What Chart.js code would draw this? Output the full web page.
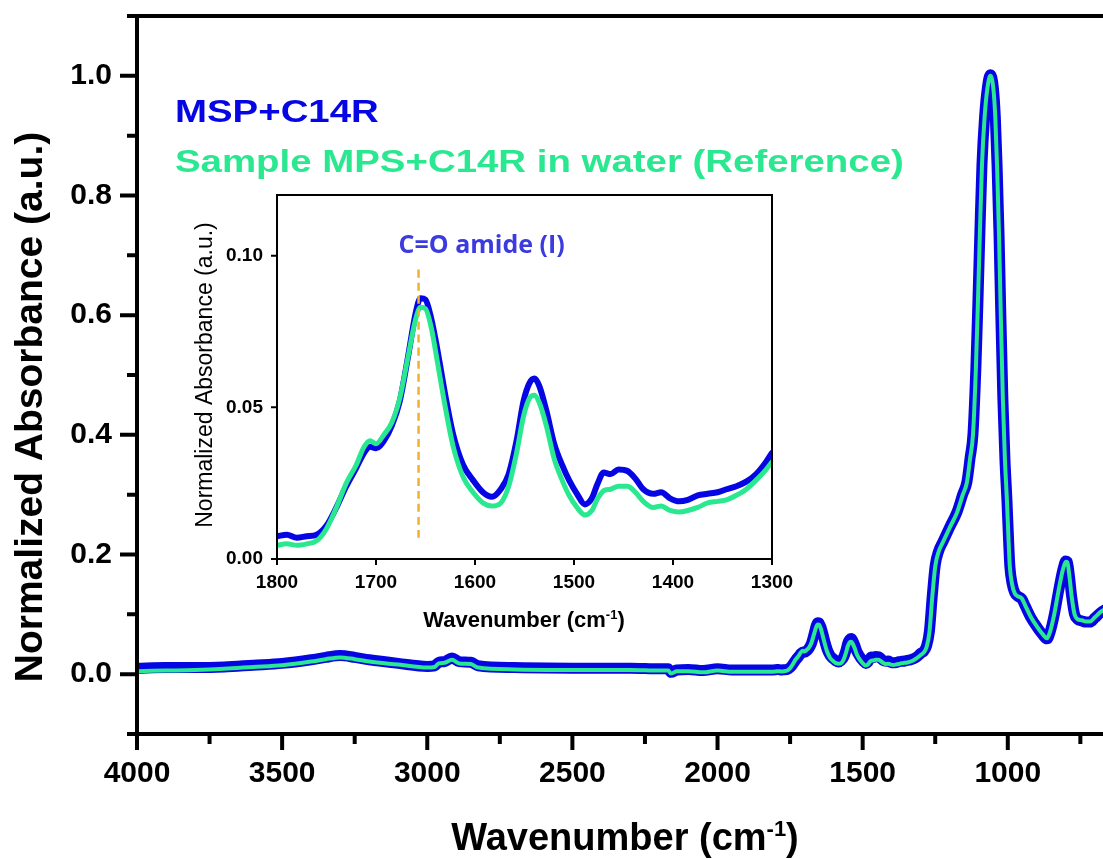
<!DOCTYPE html>
<html>
<head>
<meta charset="utf-8">
<title>FTIR spectrum</title>
<script src="https://cdn.jsdelivr.net/npm/chart.js@4.4.0/dist/chart.umd.min.js"></script>
<style>
  html, body { margin: 0; padding: 0; background: #fff; overflow: hidden; }
  #wrap { position: relative; width: 1103px; height: 859px; }
  #main { position: absolute; left: 0; top: 0; width: 1103px; height: 859px; }
  #inset { position: absolute; left: 180px; top: 180px; width: 640px; height: 460px; }
</style>
</head>
<body>
<div id="wrap">
  <canvas id="main" width="1103" height="859"></canvas>
  <canvas id="inset" width="640" height="460"></canvas>
</div>
<script>
const fontFamily = "'Liberation Sans', Arial, sans-serif";

const seriesLabels = ['MSP+C14R', 'Sample MPS+C14R in water (Reference)'];
const seriesColors = ['#0606e4', '#2ae890'];

// 4000 - 1850 cm-1
const highWn = [4000, 3900, 3800, 3700, 3600, 3500, 3400, 3350, 3300, 3250, 3200, 3100, 3000, 2975, 2960, 2940, 2915, 2890, 2850, 2825, 2700, 2500, 2300, 2200, 2170, 2160, 2140, 2100, 2050, 2000, 1950, 1850];
const highBlue = [0.010, 0.011, 0.011, 0.012, 0.015, 0.018, 0.024, 0.028, 0.031, 0.028, 0.024, 0.018, 0.013, 0.014, 0.020, 0.021, 0.027, 0.021, 0.020, 0.014, 0.011, 0.010, 0.010, 0.009, 0.009, 0.003, 0.007, 0.008, 0.006, 0.009, 0.007, 0.007];
const highGreen = [0.005, 0.006, 0.007, 0.009, 0.012, 0.015, 0.021, 0.025, 0.028, 0.025, 0.021, 0.016, 0.011, 0.012, 0.018, 0.019, 0.024, 0.018, 0.017, 0.011, 0.008, 0.007, 0.007, 0.006, 0.006, 0.001, 0.005, 0.005, 0.003, 0.006, 0.004, 0.004];

// 1800 - 1300 cm-1 (also shown in the inset)
const insetWn = [1800, 1790, 1780, 1770, 1760, 1750, 1740, 1730, 1720, 1712, 1706, 1700, 1692, 1684, 1676, 1668, 1660, 1655, 1650, 1644, 1638, 1630, 1622, 1612, 1602, 1592, 1583, 1574, 1566, 1558, 1551, 1545, 1540, 1535, 1528, 1520, 1512, 1505, 1497, 1489, 1482, 1476, 1470, 1463, 1455, 1446, 1438, 1430, 1420, 1412, 1403, 1394, 1385, 1375, 1365, 1355, 1346, 1336, 1326, 1316, 1306, 1300];
const insetBlue = [0.0075, 0.0080, 0.0070, 0.0075, 0.0080, 0.0110, 0.0170, 0.0240, 0.0300, 0.0350, 0.0370, 0.0365, 0.0390, 0.0440, 0.0520, 0.0660, 0.0810, 0.0860, 0.0855, 0.0790, 0.0690, 0.0540, 0.0410, 0.0310, 0.0260, 0.0220, 0.0205, 0.0230, 0.0280, 0.0390, 0.0520, 0.0580, 0.0595, 0.0570, 0.0490, 0.0380, 0.0310, 0.0260, 0.0215, 0.0180, 0.0200, 0.0250, 0.0285, 0.0280, 0.0295, 0.0290, 0.0265, 0.0230, 0.0215, 0.0220, 0.0200, 0.0190, 0.0195, 0.0210, 0.0215, 0.0220, 0.0230, 0.0240, 0.0255, 0.0280, 0.0320, 0.0350];
const insetGreen = [0.0045, 0.0050, 0.0045, 0.0050, 0.0060, 0.0100, 0.0170, 0.0250, 0.0310, 0.0370, 0.0390, 0.0380, 0.0410, 0.0450, 0.0530, 0.0660, 0.0790, 0.0830, 0.0825, 0.0760, 0.0650, 0.0500, 0.0370, 0.0270, 0.0220, 0.0185, 0.0175, 0.0185, 0.0240, 0.0350, 0.0470, 0.0530, 0.0540, 0.0515, 0.0440, 0.0330, 0.0260, 0.0210, 0.0170, 0.0145, 0.0160, 0.0200, 0.0225, 0.0230, 0.0240, 0.0240, 0.0220, 0.0190, 0.0170, 0.0175, 0.0160, 0.0155, 0.0160, 0.0170, 0.0185, 0.0190, 0.0195, 0.0210, 0.0230, 0.0260, 0.0295, 0.0320];

// 1290 - 640 cm-1
const lowWn = [1290, 1280, 1270, 1260, 1250, 1238, 1224, 1200, 1175, 1155, 1141, 1130, 1120, 1110, 1103, 1096, 1089, 1080, 1070, 1060, 1050, 1043, 1037, 1030, 1025, 1017, 1010, 1003, 997, 993, 985, 976, 965, 952, 940, 920, 900, 880, 865, 855, 840, 825, 810, 800, 795, 788, 780, 770, 760, 745, 730, 717, 700, 680, 660, 640];
const lowBlue = [0.038, 0.047, 0.072, 0.132, 0.182, 0.206, 0.221, 0.246, 0.271, 0.301, 0.321, 0.361, 0.401, 0.511, 0.621, 0.741, 0.851, 0.931, 0.981, 1.002, 0.981, 0.931, 0.851, 0.731, 0.621, 0.461, 0.361, 0.291, 0.221, 0.181, 0.151, 0.136, 0.130, 0.126, 0.114, 0.094, 0.079, 0.066, 0.059, 0.069, 0.099, 0.139, 0.175, 0.189, 0.188, 0.165, 0.130, 0.100, 0.092, 0.089, 0.087, 0.087, 0.094, 0.103, 0.109, 0.114];
const lowGreen = [0.036, 0.045, 0.070, 0.130, 0.180, 0.205, 0.220, 0.245, 0.270, 0.300, 0.320, 0.360, 0.400, 0.510, 0.620, 0.740, 0.850, 0.930, 0.980, 1.000, 0.980, 0.930, 0.850, 0.730, 0.620, 0.460, 0.360, 0.290, 0.220, 0.180, 0.150, 0.135, 0.130, 0.127, 0.115, 0.095, 0.080, 0.067, 0.060, 0.070, 0.100, 0.140, 0.175, 0.188, 0.187, 0.165, 0.130, 0.100, 0.092, 0.090, 0.088, 0.088, 0.095, 0.104, 0.110, 0.115];

// axis ticks
const mainXMajor = [4000, 3500, 3000, 2500, 2000, 1500, 1000];
const mainXMinor = [3750, 3250, 2750, 2250, 1750, 1250, 750];
const mainYMajor = [0, 0.2, 0.4, 0.6, 0.8, 1.0];
const mainYMinor = [-0.1, 0.1, 0.3, 0.5, 0.7, 0.9, 1.1];
const insetXTicks = [1800, 1700, 1600, 1500, 1400, 1300];
const insetYTicks = [0, 0.05, 0.10];

// amide I marker
const amideLabel = 'C=O amide (I)';
const amideWn = 1657;
const amideRange = [0.007, 0.096];

const mainWn = highWn.concat(insetWn, lowWn);
const mainBlue = highBlue.concat(insetBlue, lowBlue);
const mainGreen = highGreen.concat(insetGreen, lowGreen);

function pts(wn, vals) {
    return wn.map((w, i) => ({ x: w, y: vals[i] }));
}

// keep the plot box where we put it (no extra room for edge labels)
function noEdgePadding(s) {
    s.paddingLeft = 0;
    s.paddingRight = 0;
    s.paddingTop = 0;
    s.paddingBottom = 0;
}

// axis lines + major/minor tick marks, drawn through the scales
const axisFrame = {
    id: 'axisFrame',
    afterDraw(chart, args, o) {
        const { ctx, chartArea: a, scales } = chart;
        ctx.save();
        ctx.strokeStyle = '#000';
        ctx.lineWidth = o.lineWidth;
        ctx.lineCap = 'square';
        ctx.beginPath();
        if (o.sides.includes('left')) { ctx.moveTo(a.left, a.top); ctx.lineTo(a.left, a.bottom); }
        if (o.sides.includes('bottom')) { ctx.moveTo(a.left, a.bottom); ctx.lineTo(a.right, a.bottom); }
        if (o.sides.includes('top')) { ctx.moveTo(a.left, a.top); ctx.lineTo(a.right, a.top); }
        if (o.sides.includes('right')) { ctx.moveTo(a.right, a.top); ctx.lineTo(a.right, a.bottom); }
        ctx.stroke();

        ctx.lineCap = 'butt';
        ctx.beginPath();
        o.xTicks.forEach(([values, len]) => values.forEach(v => {
            const px = scales.x.getPixelForValue(v);
            if (px < a.left - 1 || px > a.right + 1) return;
            ctx.moveTo(px, a.bottom);
            ctx.lineTo(px, a.bottom + len);
        }));
        o.yTicks.forEach(([values, len]) => values.forEach(v => {
            const py = scales.y.getPixelForValue(v);
            ctx.moveTo(a.left, py);
            ctx.lineTo(a.left - len, py);
        }));
        ctx.stroke();
        ctx.restore();
    }
};

// axis titles (x title carries a superscript)
const axisTitles = {
    id: 'axisTitles',
    afterDraw(chart, args, o) {
        const ctx = chart.ctx;
        const font = (w, s) => `${w} ${s}px ${fontFamily}`;
        ctx.save();
        ctx.fillStyle = '#000';
        ctx.textBaseline = 'alphabetic';
        ctx.textAlign = 'left';

        const [base, sup, tail] = o.xText;
        ctx.font = font(o.xWeight, o.xSize);
        const w1 = ctx.measureText(base).width;
        const w3 = ctx.measureText(tail).width;
        ctx.font = font(o.xWeight, o.supSize);
        const w2 = ctx.measureText(sup).width;
        let x = o.xCenter - (w1 + w2 + w3) / 2;
        ctx.font = font(o.xWeight, o.xSize);
        ctx.fillText(base, x, o.xBaseline);
        x += w1;
        ctx.font = font(o.xWeight, o.supSize);
        ctx.fillText(sup, x, o.xBaseline - o.supRaise);
        x += w2;
        ctx.font = font(o.xWeight, o.xSize);
        ctx.fillText(tail, x, o.xBaseline);

        ctx.translate(o.yBaseline, o.yCenter);
        ctx.rotate(-Math.PI / 2);
        ctx.textAlign = 'center';
        ctx.font = font(o.yWeight, o.ySize);
        ctx.fillText(o.yText, 0, 0);
        ctx.restore();
    }
};

// coloured series names in the top-left corner
const seriesKey = {
    id: 'seriesKey',
    afterDraw(chart, args, o) {
        const ctx = chart.ctx;
        ctx.save();
        ctx.font = `bold ${o.size}px ${fontFamily}`;
        ctx.textBaseline = 'alphabetic';
        ctx.textAlign = 'left';
        chart.data.datasets.forEach((ds, i) => {
            ctx.save();
            ctx.translate(o.x, o.y + i * o.gap);
            ctx.scale(o.stretch, 1);
            ctx.fillStyle = ds.borderColor;
            ctx.fillText(ds.label, 0, 0);
            ctx.restore();
        });
        ctx.restore();
    }
};

// label above the dashed amide marker
const markerLabel = {
    id: 'markerLabel',
    afterDraw(chart, args, o) {
        const { ctx, scales } = chart;
        const px = scales.x.getPixelForValue(amideWn);
        const py = scales.y.getPixelForValue(amideRange[1]);
        ctx.save();
        ctx.font = `bold ${o.size}px 'Open Sans', ${fontFamily}`;
        ctx.fillStyle = o.color;
        ctx.textBaseline = 'alphabetic';
        ctx.textAlign = 'left';
        ctx.fillText(amideLabel, px + o.dx, py + o.dy);
        ctx.restore();
    }
};

Chart.defaults.font.family = fontFamily;
Chart.defaults.color = '#000';

const common = {
    animation: false,
    responsive: false,
    devicePixelRatio: 1,
    events: [],
    elements: {
        point: { radius: 0 },
        line: { cubicInterpolationMode: 'monotone', borderJoinStyle: 'round', borderCapStyle: 'round', fill: false }
    }
};

new Chart(document.getElementById('main'), {
    type: 'line',
    data: {
        datasets: [
            { label: seriesLabels[0], data: pts(mainWn, mainBlue), borderColor: seriesColors[0], borderWidth: 11, order: 2 },
            { label: seriesLabels[1], data: pts(mainWn, mainGreen), borderColor: seriesColors[1], borderWidth: 4, order: 1 }
        ]
    },
    options: {
        ...common,
        layout: { padding: { top: 16, right: 0, left: 0, bottom: 0 } },
        scales: {
            x: {
                type: 'linear', reverse: true, min: 672, max: 4000,
                afterBuildTicks: s => { s.ticks = mainXMajor.map(v => ({ value: v })); },
                afterFit: s => { s.height = 125; noEdgePadding(s); },
                grid: { display: false, drawTicks: true, tickLength: 14 },
                border: { display: false },
                ticks: { padding: 8, maxRotation: 0, autoSkip: false, color: '#000',
                         font: { size: 30, weight: 'bold' }, callback: v => String(v) }
            },
            y: {
                type: 'linear', min: -0.1, max: 1.1,
                afterBuildTicks: s => { s.ticks = mainYMajor.map(v => ({ value: v })); },
                afterFit: s => { s.width = 137; noEdgePadding(s); },
                grid: { display: false, drawTicks: true, tickLength: 17 },
                border: { display: false },
                ticks: { padding: 8, autoSkip: false, color: '#000',
                         font: { size: 30, weight: 'bold' }, callback: v => v.toFixed(1) }
            }
        },
        plugins: {
            legend: { display: false },
            tooltip: { enabled: false },
            axisFrame: { lineWidth: 4, sides: ['left', 'bottom', 'top'],
                         xTicks: [[mainXMajor, 16], [mainXMinor, 10]],
                         yTicks: [[mainYMajor, 17], [mainYMinor, 10]] },
            axisTitles: { xText: ['Wavenumber (cm', '-1', ')'], xWeight: 'bold', xSize: 38, supSize: 22, supRaise: 14,
                          xCenter: 625, xBaseline: 850,
                          yText: 'Normalized Absorbance (a.u.)', yWeight: 'bold', ySize: 39, yBaseline: 42, yCenter: 407 },
            seriesKey: { x: 175, y: 122, gap: 50, size: 32, stretch: 1.2 }
        }
    },
    plugins: [axisFrame, axisTitles, seriesKey]
});

new Chart(document.getElementById('inset'), {
    type: 'line',
    data: {
        datasets: [
            { label: seriesLabels[0], data: pts(insetWn, insetBlue), borderColor: seriesColors[0], borderWidth: 6, order: 3 },
            { label: seriesLabels[1], data: pts(insetWn, insetGreen), borderColor: seriesColors[1], borderWidth: 5, order: 2 },
            { label: amideLabel, data: [{ x: amideWn, y: amideRange[0] }, { x: amideWn, y: amideRange[1] }],
              borderColor: '#f0b22e', borderWidth: 2.5, borderDash: [8, 5], borderCapStyle: 'butt', order: 1 }
        ]
    },
    options: {
        ...common,
        layout: { padding: { top: 15, right: 48, left: 0, bottom: 0 } },
        scales: {
            x: {
                type: 'linear', reverse: true, min: 1300, max: 1800,
                afterBuildTicks: s => { s.ticks = insetXTicks.map(v => ({ value: v })); },
                afterFit: s => { s.height = 81; noEdgePadding(s); },
                grid: { display: false, drawTicks: true, tickLength: 6 },
                border: { display: false },
                ticks: { padding: 6, maxRotation: 0, autoSkip: false, color: '#000',
                         font: { size: 19, weight: 'bold' }, callback: v => String(v) }
            },
            y: {
                type: 'linear', min: 0, max: 0.12,
                afterBuildTicks: s => { s.ticks = insetYTicks.map(v => ({ value: v })); },
                afterFit: s => { s.width = 97; noEdgePadding(s); },
                grid: { display: false, drawTicks: true, tickLength: 6 },
                border: { display: false },
                ticks: { padding: 8, autoSkip: false, color: '#000',
                         font: { size: 19, weight: 'bold' }, callback: v => v.toFixed(2) }
            }
        },
        plugins: {
            legend: { display: false },
            tooltip: { enabled: false },
            axisFrame: { lineWidth: 2, sides: ['left', 'bottom', 'top', 'right'],
                         xTicks: [[insetXTicks, 6]], yTicks: [[insetYTicks, 6]] },
            axisTitles: { xText: ['Wavenumber (cm', '-1', ')'], xWeight: 'bold', xSize: 22, supSize: 13, supRaise: 8,
                          xCenter: 344, xBaseline: 447,
                          yText: 'Normalized Absorbance (a.u.)', yWeight: 'normal', ySize: 23, yBaseline: 32, yCenter: 195 },
            markerLabel: { size: 25, color: '#3b3be0', dx: -20, dy: -15 }
        }
    },
    plugins: [axisFrame, axisTitles, markerLabel]
});
</script>
</body>
</html>
